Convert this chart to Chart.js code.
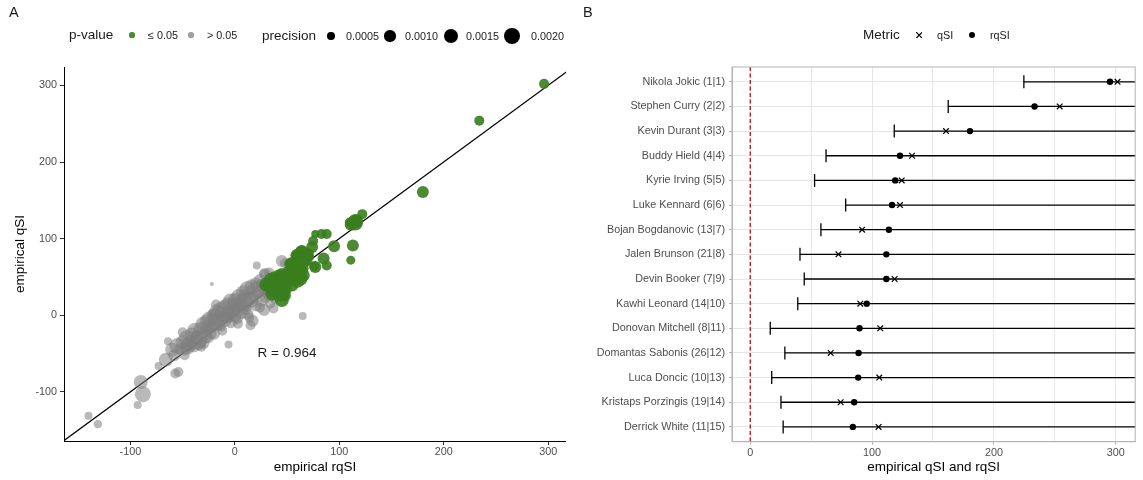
<!DOCTYPE html>
<html>
<head>
<meta charset="utf-8">
<script src="https://cdn.jsdelivr.net/npm/chart.js@4.4.1/dist/chart.umd.min.js"></script>
<style>
  html, body { margin: 0; padding: 0; background: #fff; }
  #page { position: relative; width: 1143px; height: 480px; overflow: hidden;
          font-family: "Liberation Sans", Arial, sans-serif; color: #1a1a1a; }
  .box { position: absolute; top: 0; height: 480px; }
  .lg { position: absolute; white-space: nowrap; line-height: 1; transform: translateY(-50%); }
</style>
</head>
<body>
<div id="page">
  <div class="box" style="left:0;width:575px"><canvas id="chartA"></canvas></div>
  <div class="box" style="left:575px;width:568px"><canvas id="chartB"></canvas></div>
</div>
<script>
// ---- panel A: one point per player, split by p-value group ----
const sigRqSI = [296, 234, 180, 122, 116, 115, 111, 110, 113, 111, 95, 88, 83, 77, 75, 74, 64, 64, 85, 88,
  77, 76, 71, 67, 69, 58, 59.5, 55, 53, 64, 63, 63, 66, 50, 56, 42, 45, 44, 42, 33, 34, 39, 55, 48, 45, 47, 36, 60,
  30, 35, 40, 45, 50, 52, 57, 47, 38, 60, 70, 44];
const sigQSI = [302, 254, 161, 132, 123, 121, 118, 121, 91, 72, 90, 106, 106, 106, 97, 89, 84, 82, 74, 65,
  63, 64, 76, 71, 71, 78, 79, 67, 67, 61, 58, 48, 52, 50, 50, 52, 54, 46, 46, 39, 41, 33, 39, 26, 20, 30, 28, 45,
  40, 45, 38, 42, 45, 56, 60, 35, 48, 68, 80, 28];
const sigPrecision = [0.00083, 0.00083, 0.00114, 0.00083, 0.00152, 0.00195, 0.00114, 0.00083, 0.00114, 0.00069,
  0.00114, 0.00083, 0.00083, 0.00057, 0.00083, 0.00114, 0.00114, 0.00152, 0.00114, 0.00083,
  0.00114, 0.00083, 0.00083, 0.00114, 0.00083, 0.00083, 0.00114, 0.00152, 0.00114, 0.00152,
  0.00152, 0.00152, 0.00114, 0.00195, 0.00152, 0.00114, 0.00114, 0.00152, 0.00114, 0.00152,
  0.00114, 0.00195, 0.00114, 0.00114, 0.00152, 0.00114, 0.00152, 0.00152,
  0.00152, 0.00195, 0.00195, 0.00195, 0.00152, 0.00152, 0.00195, 0.00195, 0.00152, 0.00152, 0.00114, 0.00195];

const nsRqSI = [-140, -131, -90, -88, -93, -73, -57, -54, -64, -50, -52, -48, -35, -39, -42, -32, -22, -18, -6, 21,
  45, 48, 29, 28, 33, 65, 37, 15, 17, 3, -4, -13, -23, -29, -37, -43, -35, -26, -20, -13,
  -8, -1, 3, 9, 15, 20, 25, 12, 20, 25, 29, 33, 23, 34, 28, -16, -7, -1, -20, -21,
  -10, 0, 5, 8, -5, -28, -45, 2, 10, 15, 18, -15, -25, 6, -3, -30, -12, 14, 24, 38, 31,
  -60, -55, -50, -46, -41, -38, -33, -30, -27, -24, -20, -17, -14, -10, -7, -4, 0, 4, 8, 12,
  16, 20, 24, -58, -44, -36, -22, -12, -2, 6, 14, 22, 28, -48, -18, 10, -6, 30, -66, -25];
const nsQSI = [-131, -142, -87, -103, -117, -66, -76, -74, -34, -22, -44, -52, -32, -39, -39, -41, 41, 14, -38, 65,
  71, 68, 54, 54, 56, -1, 9, -13, -7, -11, -9, -15, -24, -28, -26, -33, -35, -15, -4, 4,
  -2, 9, 15, 26, 33, 37, 41, 2, 13, 20, 24, 28, 30, 15, 7, -7, -2, 7, -24, 2,
  -5, 0, 5, 12, 3, -20, -42, -4, 8, 20, 25, -12, -30, 22, 16, -36, -20, -3, 10, 20, 37,
  -45, -40, -35, -30, -25, -20, -18, -12, -8, -5, 0, 4, 8, 10, 14, 18, 20, 24, 30, 34,
  38, 42, 46, -52, -38, -28, -14, -2, 6, 14, 22, 30, 36, -45, -10, 18, 2, 32, -58, -18];
const nsPrecision = [0.00057, 0.00057, 0.00152, 0.00195, 0.00057, 0.00057, 0.00083, 0.00083, 0.00057, 0.00083,
  0.00114, 0.00083, 0.00245, 0.00152, 0.00083, 0.00083, 0.00022, 0.00083, 0.00057, 0.00057,
  0.00114, 0.00083, 0.00114, 0.00083, 0.00083, 0.00057, 0.00083, 0.00083, 0.00114, 0.00083,
  0.00114, 0.00083, 0.00114, 0.00152, 0.00083, 0.00114, 0.00195, 0.00152, 0.00114, 0.00114,
  0.00152, 0.00114, 0.00152, 0.00114, 0.00083, 0.00114, 0.00083, 0.00114, 0.00114, 0.00152,
  0.00114, 0.00152, 0.00083, 0.00083, 0.00114, 0.00152, 0.00114, 0.00152, 0.00114, 0.00083,
  0.00195, 0.00152, 0.00195, 0.00152, 0.00114, 0.00114, 0.00152, 0.00114, 0.00114, 0.00195,
  0.00114, 0.00114, 0.00083, 0.00083, 0.00083, 0.00114, 0.00083, 0.00083, 0.00083, 0.00057,
  0.00114,
  0.00152, 0.00195, 0.00152, 0.00195, 0.00152, 0.00195, 0.00152, 0.00195, 0.00152, 0.00195,
  0.00152, 0.00195, 0.00152, 0.00195, 0.00152, 0.00195, 0.00152, 0.00195, 0.00152, 0.00195,
  0.00152, 0.00114, 0.00114, 0.00114, 0.00195, 0.00114, 0.00152, 0.00114, 0.00195, 0.00114,
  0.00152, 0.00114, 0.00152, 0.00114, 0.00195, 0.00195, 0.00152, 0.00114, 0.00152, 0.00114];

const xTicksA = [-100, 0, 100, 200, 300];
const yTicksA = [-100, 0, 100, 200, 300];
const precisionBreaks = [0.0005, 0.0010, 0.0015, 0.0020];
const precisionLabels = ["0.0005", "0.0010", "0.0015", "0.0020"];
const correlationText = "R = 0.964";

// ---- panel B: top 15 players ----
const players = ["Nikola Jokic (1|1)", "Stephen Curry (2|2)", "Kevin Durant (3|3)", "Buddy Hield (4|4)",
  "Kyrie Irving (5|5)", "Luke Kennard (6|6)", "Bojan Bogdanovic (13|7)", "Jalen Brunson (21|8)",
  "Devin Booker (7|9)", "Kawhi Leonard (14|10)", "Donovan Mitchell (8|11)", "Domantas Sabonis (26|12)",
  "Luca Doncic (10|13)", "Kristaps Porzingis (19|14)", "Derrick White (11|15)"];
const qSI = [301.5, 254, 160.7, 132.8, 124.3, 122.9, 91.8, 72.4, 118.5, 90.3, 106.7, 66, 105.9, 74.2, 105.3];
const rqSI = [295.3, 233.4, 180.4, 122.9, 119, 116.4, 113.8, 111.7, 111.7, 95.6, 89.7, 88.9, 88.6, 85.3, 84.2];
const rqSILower = [224.6, 162.5, 118.2, 62.2, 52.8, 78.3, 58, 40.8, 44.3, 39, 16.4, 28.4, 17.6, 25.2, 27];
// upper ends run past the right edge of the panel
const rqSIUpper = [400, 400, 400, 400, 400, 400, 400, 400, 400, 400, 400, 400, 400, 400, 400];
const xGridB = [0, 50, 100, 150, 200, 250, 300];
const xTicksB = [0, 100, 200, 300];

Chart.defaults.font.family = '"Liberation Sans", Arial, sans-serif';
Chart.defaults.animation = false;
Chart.defaults.events = [];
Chart.defaults.plugins.legend.display = false;
Chart.defaults.plugins.tooltip.enabled = false;

const GREEN = "rgba(58,125,30,0.9)";
const GREY = "rgba(127,127,127,0.55)";
const radiusFor = p => Math.sqrt(Math.max(0, 34600 * p - 3.6));
const toPoints = (xs, ys) => xs.map((x, i) => ({ x: x, y: ys[i] }));

const rLabel = {
  id: "rLabel",
  afterDatasetsDraw(chart) {
    const ctx = chart.ctx;
    ctx.save();
    ctx.fillStyle = "#1a1a1a";
    ctx.font = '13.5px "Liberation Sans", Arial, sans-serif';
    ctx.textAlign = "center";
    ctx.textBaseline = "middle";
    ctx.fillText(correlationText, chart.scales.x.getPixelForValue(50), chart.scales.y.getPixelForValue(-50));
    ctx.restore();
  }
};

new Chart(document.getElementById("chartA"), {
  type: "scatter",
  data: {
    datasets: [
      {
        data: toPoints(sigRqSI, sigQSI),
        backgroundColor: GREEN, borderWidth: 0,
        pointRadius: sigPrecision.map(radiusFor), order: 1
      },
      {
        data: toPoints(nsRqSI, nsQSI),
        backgroundColor: GREY, borderWidth: 0,
        pointRadius: nsPrecision.map(radiusFor), order: 2
      },
      {
        // y = x reference line
        data: [{ x: -200, y: -200 }, { x: 400, y: 400 }],
        showLine: true, borderColor: "#000", borderWidth: 1.2,
        pointRadius: 0, clip: 0, order: 3
      }
    ]
  },
  options: {
    responsive: true, maintainAspectRatio: false,
    layout: { padding: { top: 67, right: 9, left: 0, bottom: 0 } },
    scales: {
      x: {
        type: "linear", min: -163.5, max: 317,
        afterBuildTicks: s => { s.ticks = xTicksA.map(v => ({ value: v })); },
        afterFit: s => { s.height = 39; },
        grid: { drawOnChartArea: false, tickLength: 4, tickColor: "#333" },
        border: { color: "#000", width: 1 },
        ticks: { color: "#4d4d4d", font: { size: 10.8 }, padding: 1, maxRotation: 0, autoSkip: false },
        title: { display: true, text: "empirical rqSI", color: "#000", font: { size: 13.5 }, padding: { top: 0, bottom: 5 } }
      },
      y: {
        type: "linear", min: -164, max: 324,
        afterBuildTicks: s => { s.ticks = yTicksA.map(v => ({ value: v })); },
        afterFit: s => { s.width = 64; },
        grid: { drawOnChartArea: false, tickLength: 4, tickColor: "#333" },
        border: { color: "#000", width: 1 },
        ticks: { color: "#4d4d4d", font: { size: 10.8 }, padding: 3, autoSkip: false },
        title: { display: true, text: "empirical qSI", color: "#000", font: { size: 13.5 }, padding: { top: 12, bottom: 0 } }
      }
    }
  },
  plugins: [rLabel]
});

const panelBorder = {
  id: "panelBorder",
  afterDraw(chart) {
    const a = chart.chartArea, ctx = chart.ctx;
    ctx.save();
    ctx.strokeStyle = "#b3b3b3";
    ctx.lineWidth = 1;
    ctx.strokeRect(a.left, a.top, a.right - a.left, a.bottom - a.top);
    ctx.restore();
  }
};

new Chart(document.getElementById("chartB"), {
  type: "bar",
  data: {
    datasets: [
      {
        type: "scatter",
        data: toPoints(rqSI, players.map((_, i) => i)),
        pointStyle: "circle", pointRadius: 3.2,
        backgroundColor: "#000", borderColor: "#000", borderWidth: 0, order: 0
      },
      {
        type: "scatter",
        data: toPoints(qSI, players.map((_, i) => i)),
        pointStyle: "crossRot", pointRadius: 4,
        borderColor: "#000", borderWidth: 1.2, order: 1
      },
      {
        type: "scatter",
        data: toPoints(rqSILower, players.map((_, i) => i)),
        pointStyle: "line", rotation: 90, pointRadius: 6.5,
        borderColor: "#000", borderWidth: 1.3, order: 2
      },
      {
        type: "bar",
        data: rqSILower.map((lo, i) => ({ x: [lo, rqSIUpper[i]], y: i })),
        backgroundColor: "#000", barThickness: 1.3, inflateAmount: 0,
        borderWidth: 0, clip: 0, order: 3
      },
      {
        // zero reference
        type: "scatter",
        data: [{ x: 0, y: -0.6 }, { x: 0, y: 14.6 }],
        showLine: true, borderColor: "#b22222", borderWidth: 1.4, borderDash: [4, 2.5],
        pointRadius: 0, clip: 0, order: 4
      }
    ]
  },
  options: {
    indexAxis: "y",
    responsive: true, maintainAspectRatio: false,
    layout: { padding: { top: 67, right: 4, left: 0, bottom: 0 } },
    scales: {
      x: {
        type: "linear", min: -15, max: 316,
        afterBuildTicks: s => { s.ticks = xGridB.map(v => ({ value: v })); },
        afterFit: s => { s.height = 38.3; },
        grid: {
          color: "#e6e6e6", lineWidth: 1, tickLength: 3,
          tickColor: c => (c.tick && xTicksB.includes(c.tick.value)) ? "#b3b3b3" : "rgba(0,0,0,0)"
        },
        border: { color: "#b3b3b3", width: 1 },
        ticks: {
          color: "#4d4d4d", font: { size: 10.8 }, padding: 2, maxRotation: 0, autoSkip: false,
          callback: v => xTicksB.includes(v) ? String(v) : ""
        },
        title: { display: true, text: "empirical qSI and rqSI", color: "#000", font: { size: 13.5 }, padding: { top: 0, bottom: 5 } }
      },
      y: {
        type: "linear", min: -0.6, max: 14.6, reverse: true, offset: false,
        afterBuildTicks: s => { s.ticks = players.map((_, i) => ({ value: i })); },
        afterFit: s => { s.width = 157; },
        grid: { color: "#e6e6e6", lineWidth: 1, offset: false, tickLength: 3, tickColor: "#b3b3b3" },
        border: { color: "#b3b3b3", width: 1 },
        ticks: { color: "#4d4d4d", font: { size: 10.8 }, padding: 4, autoSkip: false, callback: v => players[v] }
      }
    }
  },
  plugins: [panelBorder]
});

// ---- legends and panel tags ----
const page = document.getElementById("page");
function addText(text, left, cy, size) {
  const d = document.createElement("div");
  d.className = "lg";
  d.textContent = text;
  d.style.left = left + "px";
  d.style.top = cy + "px";
  d.style.fontSize = size + "px";
  page.appendChild(d);
}
function addDot(cx, cy, r, color) {
  const d = document.createElement("div");
  d.style.cssText = "position:absolute;border-radius:50%;left:" + (cx - r) + "px;top:" + (cy - r) +
    "px;width:" + (2 * r) + "px;height:" + (2 * r) + "px;background:" + color;
  page.appendChild(d);
}
function addCross(cx, cy, h) {
  const ns = "http://www.w3.org/2000/svg";
  const svg = document.createElementNS(ns, "svg");
  svg.setAttribute("width", 2 * h);
  svg.setAttribute("height", 2 * h);
  svg.style.cssText = "position:absolute;left:" + (cx - h) + "px;top:" + (cy - h) + "px";
  [[0, 0, 2 * h, 2 * h], [0, 2 * h, 2 * h, 0]].forEach(c => {
    const l = document.createElementNS(ns, "line");
    l.setAttribute("x1", c[0]); l.setAttribute("y1", c[1]);
    l.setAttribute("x2", c[2]); l.setAttribute("y2", c[3]);
    l.setAttribute("stroke", "#000"); l.setAttribute("stroke-width", "1.2");
    svg.appendChild(l);
  });
  page.appendChild(svg);
}

addText("A", 9, 12, 14.5);
addText("B", 583, 12, 14.5);

addText("p-value", 69, 35, 13.5);
addDot(132, 35, 2.6, "#4a8a30");
addText("\u2264 0.05", 148, 35, 10.8);
addDot(191, 35, 2.6, "#9e9e9e");
addText("> 0.05", 207, 35, 10.8);

addText("precision", 262, 36, 13.5);
const precDotX = [331, 390, 451, 512];
const precTextX = [346, 405, 466, 531];
precisionBreaks.forEach((p, i) => {
  addDot(precDotX[i], 36, radiusFor(p), "#000");
  addText(precisionLabels[i], precTextX[i], 36, 10.8);
});

addText("Metric", 863, 35, 13.5);
addCross(919, 35, 3.2);
addText("qSI", 937, 35, 10.8);
addDot(972, 35, 3.2, "#000");
addText("rqSI", 990, 35, 10.8);
</script>
</body>
</html>
